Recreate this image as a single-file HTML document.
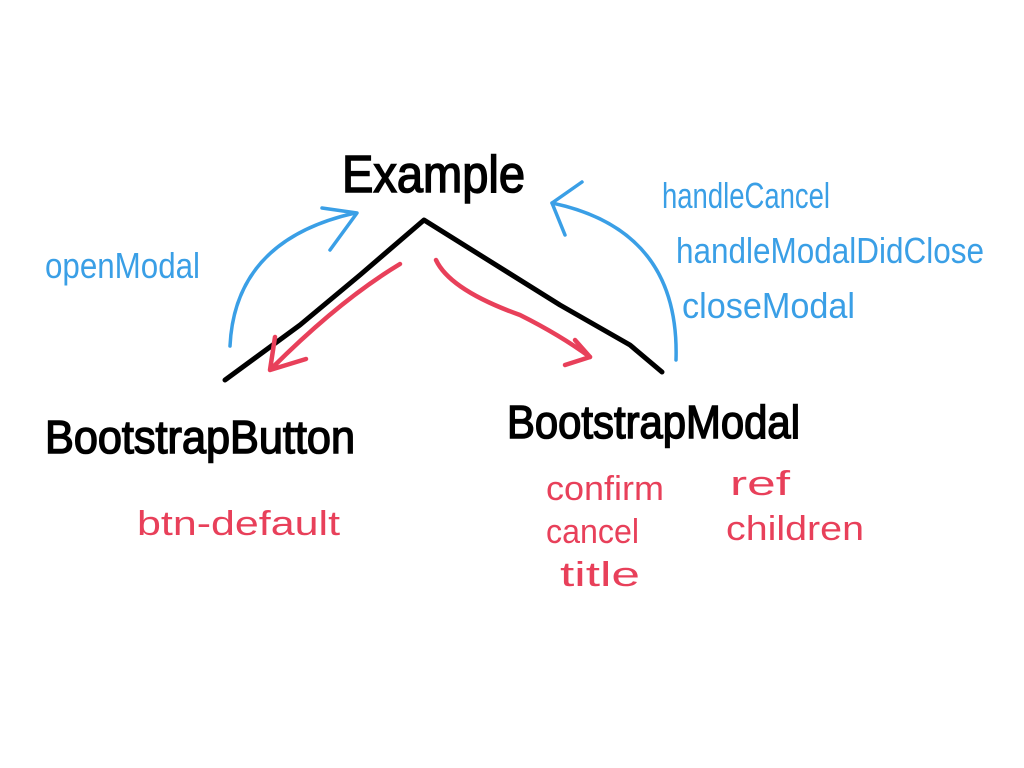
<!DOCTYPE html>
<html><head><style>
html,body{margin:0;padding:0;background:#fff;}
svg{display:block;}
text{font-family:"Liberation Sans",sans-serif;}
</style></head><body>
<svg width="1024" height="768" viewBox="0 0 1024 768">
<rect width="1024" height="768" fill="#fff"/>
<g fill="none" stroke-linecap="round" stroke-linejoin="round">
<path d="M225,380 L300,325 L360,275 L424,220 L480,255 L560,305 L630,345 L662,372" stroke="#000" stroke-width="5"/>
<path d="M400,264 Q340,300 272,368" stroke="#e8405a" stroke-width="4.5"/>
<path d="M275,337 L270,370 L306,359" stroke="#e8405a" stroke-width="4.5"/>
<path d="M436,260 Q450,290 520,315 Q560,335 590,357" stroke="#e8405a" stroke-width="4.5"/>
<path d="M575,340 L590,357 L565,365" stroke="#e8405a" stroke-width="4.5"/>
<path d="M230,346 Q235,240 355,213" stroke="#3a9fe6" stroke-width="3.5"/>
<path d="M322,208 L357,213 L330,250" stroke="#3a9fe6" stroke-width="3.5"/>
<path d="M676,360 Q680,230 552,203" stroke="#3a9fe6" stroke-width="3.5"/>
<path d="M582,182 L552,203 L565,235" stroke="#3a9fe6" stroke-width="3.5"/>
</g>
<g>
<text x="342" y="192" font-size="52" fill="#000" stroke="#000" stroke-width="1.5" textLength="183" lengthAdjust="spacingAndGlyphs">Example</text>
<text x="45" y="453" font-size="46" fill="#000" stroke="#000" stroke-width="1.5" textLength="310" lengthAdjust="spacingAndGlyphs">BootstrapButton</text>
<text x="507" y="438" font-size="46" fill="#000" stroke="#000" stroke-width="1.5" textLength="293" lengthAdjust="spacingAndGlyphs">BootstrapModal</text>
<text x="45" y="278" font-size="36" fill="#3a9fe6" textLength="155" lengthAdjust="spacingAndGlyphs">openModal</text>
<text x="662" y="208" font-size="36" fill="#3a9fe6" textLength="168" lengthAdjust="spacingAndGlyphs">handleCancel</text>
<text x="676" y="263" font-size="36" fill="#3a9fe6" textLength="308" lengthAdjust="spacingAndGlyphs">handleModalDidClose</text>
<text x="682" y="318" font-size="36" fill="#3a9fe6" textLength="173" lengthAdjust="spacingAndGlyphs">closeModal</text>
<text x="137" y="535" font-size="34" fill="#e8405a" textLength="203" lengthAdjust="spacingAndGlyphs">btn-default</text>
<text x="546" y="500" font-size="34" fill="#e8405a" textLength="118" lengthAdjust="spacingAndGlyphs">confirm</text>
<text x="546" y="543" font-size="34" fill="#e8405a" textLength="93" lengthAdjust="spacingAndGlyphs">cancel</text>
<text x="560" y="586" font-size="34" fill="#e8405a" textLength="80" lengthAdjust="spacingAndGlyphs">title</text>
<text x="730" y="495" font-size="34" fill="#e8405a" textLength="60" lengthAdjust="spacingAndGlyphs">ref</text>
<text x="726" y="540" font-size="34" fill="#e8405a" textLength="138" lengthAdjust="spacingAndGlyphs">children</text>
</g>
</svg>
</body></html>
